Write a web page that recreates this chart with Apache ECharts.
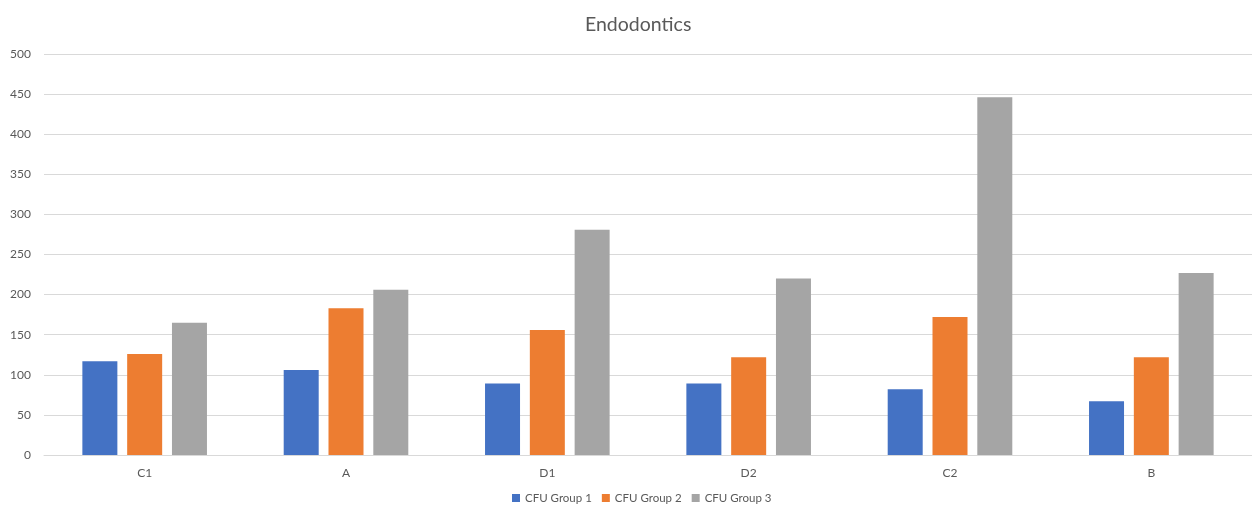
<!DOCTYPE html>
<html>
<head>
<meta charset="utf-8">
<script src="https://cdn.jsdelivr.net/npm/echarts@6/dist/echarts.min.js"></script>
<style>html,body{margin:0;padding:0;background:#fff}#c{width:1252px;height:511px}</style>
</head>
<body>
<div id="c"></div>
<script>
const categories = ['C1', 'A', 'D1', 'D2', 'C2', 'B'];
const seriesNames = ['CFU Group 1', 'CFU Group 2', 'CFU Group 3'];
const group1 = [117, 106, 89, 89, 82, 67];
const group2 = [126, 183, 156, 122, 172, 122];
const group3 = [165, 206, 281, 220, 446, 227];
const colors = ['#4472C4', '#ED7D31', '#A5A5A5'];
const yTicks = {min: 0, max: 500, interval: 50};

const font = 'Lato, "Open Sans", sans-serif';
const chart = echarts.init(document.getElementById('c'), null, {renderer: 'canvas'});
const data = [group1, group2, group3];
chart.setOption({
  animation: false,
  backgroundColor: '#ffffff',
  title: {
    text: 'Endodontics', left: 580, top: 10,
    textStyle: {fontFamily: font, fontSize: 19.5, fontWeight: 'normal', color: '#595959'}
  },
  legend: {
    bottom: 2, left: 507,
    itemWidth: 8, itemHeight: 8, itemGap: 10,
    icon: 'rect',
    textStyle: {fontFamily: font, fontSize: 11.5, color: '#595959'},
    data: seriesNames
  },
  grid: {left: 44, width: 1211, top: 54, bottom: 56, containLabel: false},
  xAxis: {
    type: 'category', data: categories,
    axisLine: {lineStyle: {color: '#d9d9d9'}},
    axisTick: {show: false},
    axisLabel: {fontFamily: font, fontSize: 12, color: '#595959', margin: 12}
  },
  yAxis: {
    type: 'value', min: yTicks.min, max: yTicks.max, interval: yTicks.interval,
    axisLine: {show: false}, axisTick: {show: false},
    splitLine: {lineStyle: {color: '#d9d9d9', width: 1}},
    axisLabel: {fontFamily: font, fontSize: 12, color: '#595959', margin: 13}
  },
  series: seriesNames.map((n, i) => ({
    name: n, type: 'bar', data: data[i],
    barWidth: 35, barGap: '28%',
    itemStyle: {color: colors[i]}
  }))
});
</script>
</body>
</html>
